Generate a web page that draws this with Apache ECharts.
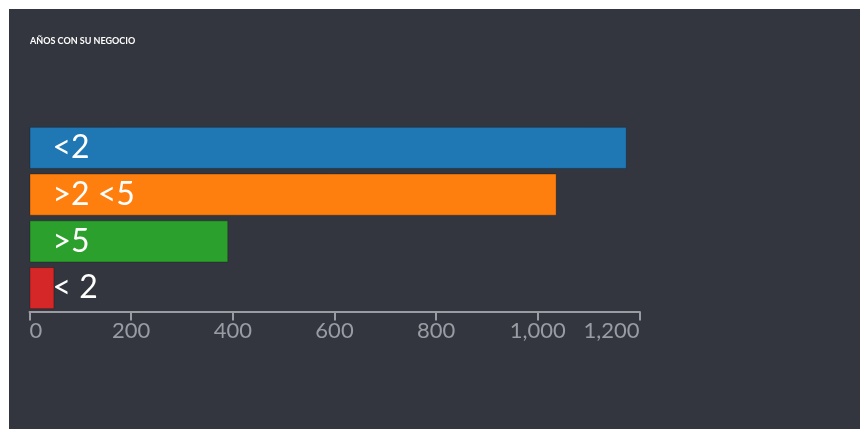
<!DOCTYPE html>
<html>
<head>
<meta charset="utf-8">
<script src="https://cdn.jsdelivr.net/npm/echarts@6/dist/echarts.min.js"></script>
<style>
html,body{margin:0;padding:0;background:#ffffff;width:860px;height:429px;overflow:hidden;}
#chart{position:absolute;left:9px;top:9px;width:851px;height:420px;}
</style>
</head>
<body>
<div id="chart"></div>
<script>
const categories = ["<2", ">2 <5", ">5", "< 2"];
const values = [1175, 1037, 391, 49];
const colors = ["#1f77b4", "#ff7f0e", "#2ca02c", "#d62728"];
const xTicks = [0, 200, 400, 600, 800, 1000, 1200];

const chart = echarts.init(document.getElementById('chart'));
chart.setOption({
  backgroundColor: '#33363f',
  animation: false,
  title: {
    text: 'AÑOS CON SU NEGOCIO',
    left: 16, top: 23,
    textStyle: {color: '#ffffff', fontSize: 9, fontWeight: 'bold', fontFamily: 'Lato'}
  },
  grid: {left: 20.5, width: 610, top: 115.5, height: 187, containLabel: false},
  xAxis: {
    type: 'value', min: xTicks[0], max: xTicks[xTicks.length - 1], interval: 200,
    splitLine: {show: false},
    axisLine: {show: true, lineStyle: {color: '#9a9ca3', width: 2}},
    axisTick: {show: true, length: 9, lineStyle: {color: '#9a9ca3', width: 2}},
    axisLabel: {
      color: '#9a9ca3', fontSize: 22, fontFamily: 'Lato', margin: 8,
      alignMinLabel: 'left', alignMaxLabel: 'right',
      formatter: v => v.toLocaleString('en-US')
    }
  },
  yAxis: {
    type: 'category', data: categories, inverse: true, show: false
  },
  series: [{
    type: 'bar',
    data: values.map((v, i) => ({value: v, itemStyle: {color: colors[i]}})),
    barCategoryGap: '10%',
    itemStyle: {borderColor: 'rgba(0,0,0,0.25)', borderWidth: 1},
    label: {
      show: true, position: [23, '50%'], verticalAlign: 'middle', align: 'left',
      formatter: '{b}', color: '#ffffff', fontSize: 32, fontFamily: 'Lato'
    }
  }]
});
</script>
</body>
</html>
